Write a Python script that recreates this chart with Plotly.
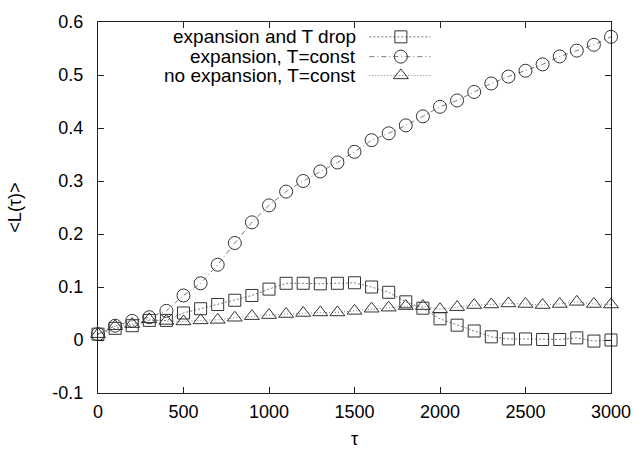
import plotly.graph_objects as go

# time steps (tau) and averaged L(tau) for the three runs
tau = list(range(0, 3001, 100))

expansion_T_drop = [0.011, 0.022, 0.027, 0.037, 0.037, 0.051, 0.059, 0.067, 0.075, 0.084,
                    0.096, 0.107, 0.107, 0.106, 0.107, 0.108, 0.100, 0.090, 0.072, 0.060,
                    0.040, 0.028, 0.017, 0.006, 0.002, 0.002, 0.001, 0.001, 0.004, -0.002,
                    0.000]
expansion_T_const = [0.011, 0.027, 0.036, 0.043, 0.055, 0.084, 0.107, 0.142, 0.183, 0.222,
                     0.254, 0.280, 0.300, 0.318, 0.335, 0.355, 0.377, 0.390, 0.405, 0.422,
                     0.440, 0.452, 0.468, 0.484, 0.497, 0.508, 0.520, 0.535, 0.546, 0.557,
                     0.572]
no_expansion_T_const = [0.011, 0.026, 0.030, 0.039, 0.036, 0.035, 0.037, 0.038, 0.042, 0.045,
                        0.047, 0.049, 0.051, 0.052, 0.052, 0.055, 0.059, 0.061, 0.064, 0.064,
                        0.058, 0.062, 0.066, 0.067, 0.069, 0.068, 0.066, 0.068, 0.072, 0.068,
                        0.067]

series_names = ["expansion and T drop", "expansion, T=const", "no expansion, T=const"]
series_values = [expansion_T_drop, expansion_T_const, no_expansion_T_const]
symbols = ["square-open", "circle-open", "triangle-up-open"]
marker_sizes = [12, 13, 13]
dashes = ["2px,2px", "5px,3px,1px,3px", "1px,2px"]

x_ticks = [0, 500, 1000, 1500, 2000, 2500, 3000]
y_ticks = [-0.1, 0, 0.1, 0.2, 0.3, 0.4, 0.5, 0.6]

FONT = "Liberation Sans, Arial, Helvetica, sans-serif"
LINE_COLOR = "#7a7a7a"
MARK_COLOR = "#333333"

W, H = 643, 450
L, R, T, B = 98, 25, 18, 57
plot_w, plot_h = W - L - R, H - T - B

fig = go.Figure()

for name, vals, sym, ms, dash in zip(series_names, series_values, symbols, marker_sizes, dashes):
    fig.add_trace(go.Scatter(
        x=tau, y=vals, name=name, mode="lines+markers", cliponaxis=False,
        line=dict(color=LINE_COLOR, width=1, dash=dash),
        marker=dict(symbol=sym, size=ms, color=MARK_COLOR, line=dict(width=1, color=MARK_COLOR)),
        showlegend=False,
    ))

# key in the upper-left: right-aligned labels with line sample and symbol to the right
key_rows_px = [33, 53, 72]
key_text_right = 362
key_line = (373, 435)
key_mark = 405
for name, sym, ms, dash, row in zip(series_names, symbols, marker_sizes, dashes, key_rows_px):
    fig.add_trace(go.Scatter(
        x=list(key_line), y=[row, row], mode="lines", xaxis="x2", yaxis="y2",
        line=dict(color=LINE_COLOR, width=1, dash=dash), showlegend=False, hoverinfo="skip",
    ))
    fig.add_trace(go.Scatter(
        x=[key_mark], y=[row], mode="markers", xaxis="x2", yaxis="y2",
        marker=dict(symbol=sym, size=ms, color=MARK_COLOR, line=dict(width=1, color=MARK_COLOR)),
        showlegend=False, hoverinfo="skip",
    ))
    fig.add_annotation(
        x=(key_text_right - L) / plot_w, y=(H - B - row) / plot_h, xref="paper", yref="paper",
        text=name, showarrow=False, xanchor="right", yanchor="middle",
        font=dict(family=FONT, size=19, color="#000"),
    )

axis_common = dict(
    showgrid=False, zeroline=False, showline=True, linecolor="#222", linewidth=1,
    mirror="allticks", ticks="inside", ticklen=6, tickwidth=1, tickcolor="#222",
    tickfont=dict(family=FONT, size=18, color="#000"),
)

fig.update_layout(
    width=W, height=H,
    margin=dict(l=L, r=R, t=T, b=B),
    paper_bgcolor="white", plot_bgcolor="white",
    xaxis=dict(range=[0, 3000], tickvals=x_ticks, ticktext=[str(v) for v in x_ticks],
               ticklabelstandoff=2, **axis_common),
    yaxis=dict(range=[-0.1, 0.6], tickvals=y_ticks,
               ticktext=["-0.1", "0", "0.1", "0.2", "0.3", "0.4", "0.5", "0.6"],
               ticklabelstandoff=10, **axis_common),
    xaxis2=dict(range=[L, W - R], overlaying="x", visible=False, fixedrange=True),
    yaxis2=dict(range=[H - B, T], overlaying="y", visible=False, fixedrange=True),
    showlegend=False,
)

# axis titles
fig.add_annotation(x=0.5, y=(H - B - 440) / plot_h, xref="paper", yref="paper",
                   text="τ", showarrow=False, xanchor="center", yanchor="middle",
                   font=dict(family=FONT, size=18, color="#000"))
fig.add_annotation(x=(13 - L) / plot_w, y=0.5, xref="paper", yref="paper",
                   text="&lt;L(τ)&gt;", showarrow=False, textangle=-90,
                   xanchor="center", yanchor="middle",
                   font=dict(family=FONT, size=18, color="#000"))

fig.write_html("out.html")
